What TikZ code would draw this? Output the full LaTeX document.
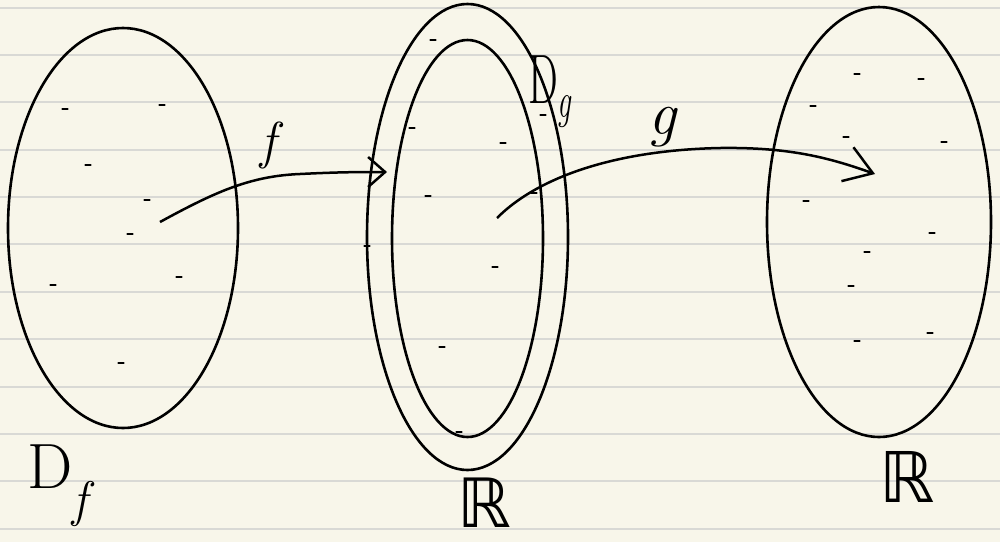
\documentclass[tikz,border=0pt]{standalone}
\usepackage{fontspec}
\newfontfamily\dejavu{DejaVu Sans}
\usetikzlibrary{arrows.meta,positioning,shapes.geometric}
\definecolor{paper}{HTML}{F8F6EA}
\definecolor{ruling}{HTML}{D9D9D5}

\begin{document}
\begin{tikzpicture}[
  x=1pt,y=-1pt,
  set/.style={draw,ellipse,inner sep=0pt,line width=2.6pt},
  speck/.style={line width=2.6pt,line cap=round},
  arr/.style={-{Straight Barb[length=17pt,width=30pt]},line width=2.5pt},
  longarr/.style={arr,-{Straight Barb[length=27pt,width=36pt]}},
  lbl/.style={inner sep=0pt,font=\fontsize{64}{64}\selectfont}
]

% paper with ruled lines
\fill[paper] (0,0) rectangle (1000,542);
\useasboundingbox (0,0) rectangle (1000,542);
\foreach \k in {0,...,11}
  \draw[ruling,line width=2pt] (0,7.7+47.35*\k) -- (1000,7.7+47.35*\k);

% the sets
\node[set,minimum width=230pt,minimum height=400pt] (dom) at (123,228) {};
\node[set,minimum width=201pt,minimum height=466pt] (mid) at (467.5,237) {};
\node[set,minimum width=151pt,minimum height=397pt] (dg) at (467.5,238.5) {};
\node[set,minimum width=224pt,minimum height=430pt] (cod) at (879,222) {};

% points in the sets
\foreach \x/\y in {65/109,162/105,88/165,147/200,130/234,179/277,53/285,121/363,
                   433/40,412/128,503/143,428/196,367/246,495/267,442/347,459/432,534/193,543/115,
                   857/74,921/79,813/106,846/137,944/142,806/201,932/233,867/252,851/286,930/333,857/341}
  \draw[speck] (\x-2.5,\y) -- (\x+2.5,\y);

% labels
\node[lbl,anchor=base west] (lf) at (27,488) {D\raisebox{-28pt}{\fontsize{50}{50}\selectfont\itshape f}};
\node[lbl,anchor=base west,font=\dejavu\fontsize{68}{68}\selectfont] (lrmid) at (457,527) {ℝ};
\node[lbl,anchor=base west,font=\dejavu\fontsize{70}{70}\selectfont] (lrcod) at (879,502) {ℝ};
\node[lbl,anchor=base west,font=\fontsize{70}{70}\selectfont] (lg) at (528,103)
  {\scalebox{0.6}[1]{D\raisebox{-14pt}{\fontsize{50}{50}\selectfont\itshape g}}};

% the maps
\coordinate (fstart) at (160,222);
\coordinate (ftip) at (387,172);
\coordinate (gstart) at (497,218);
\coordinate (gtip) at (875,174);

\draw[arr] (fstart) .. controls (215,192) and (250,176) .. (300,174)
  .. controls (340,172) and (360,172) .. (ftip);
\draw[longarr] (gstart) .. controls (540,175) and (620,150) .. (720,148)
  .. controls (790,147) and (830,158) .. (gtip);

\node[lbl,font=\fontsize{52}{52}\selectfont\itshape] (fname) at (268,145) {f};
\node[lbl,font=\fontsize{62}{62}\selectfont\itshape] (gname) at (662,127) {g};

\end{tikzpicture}
\end{document}
